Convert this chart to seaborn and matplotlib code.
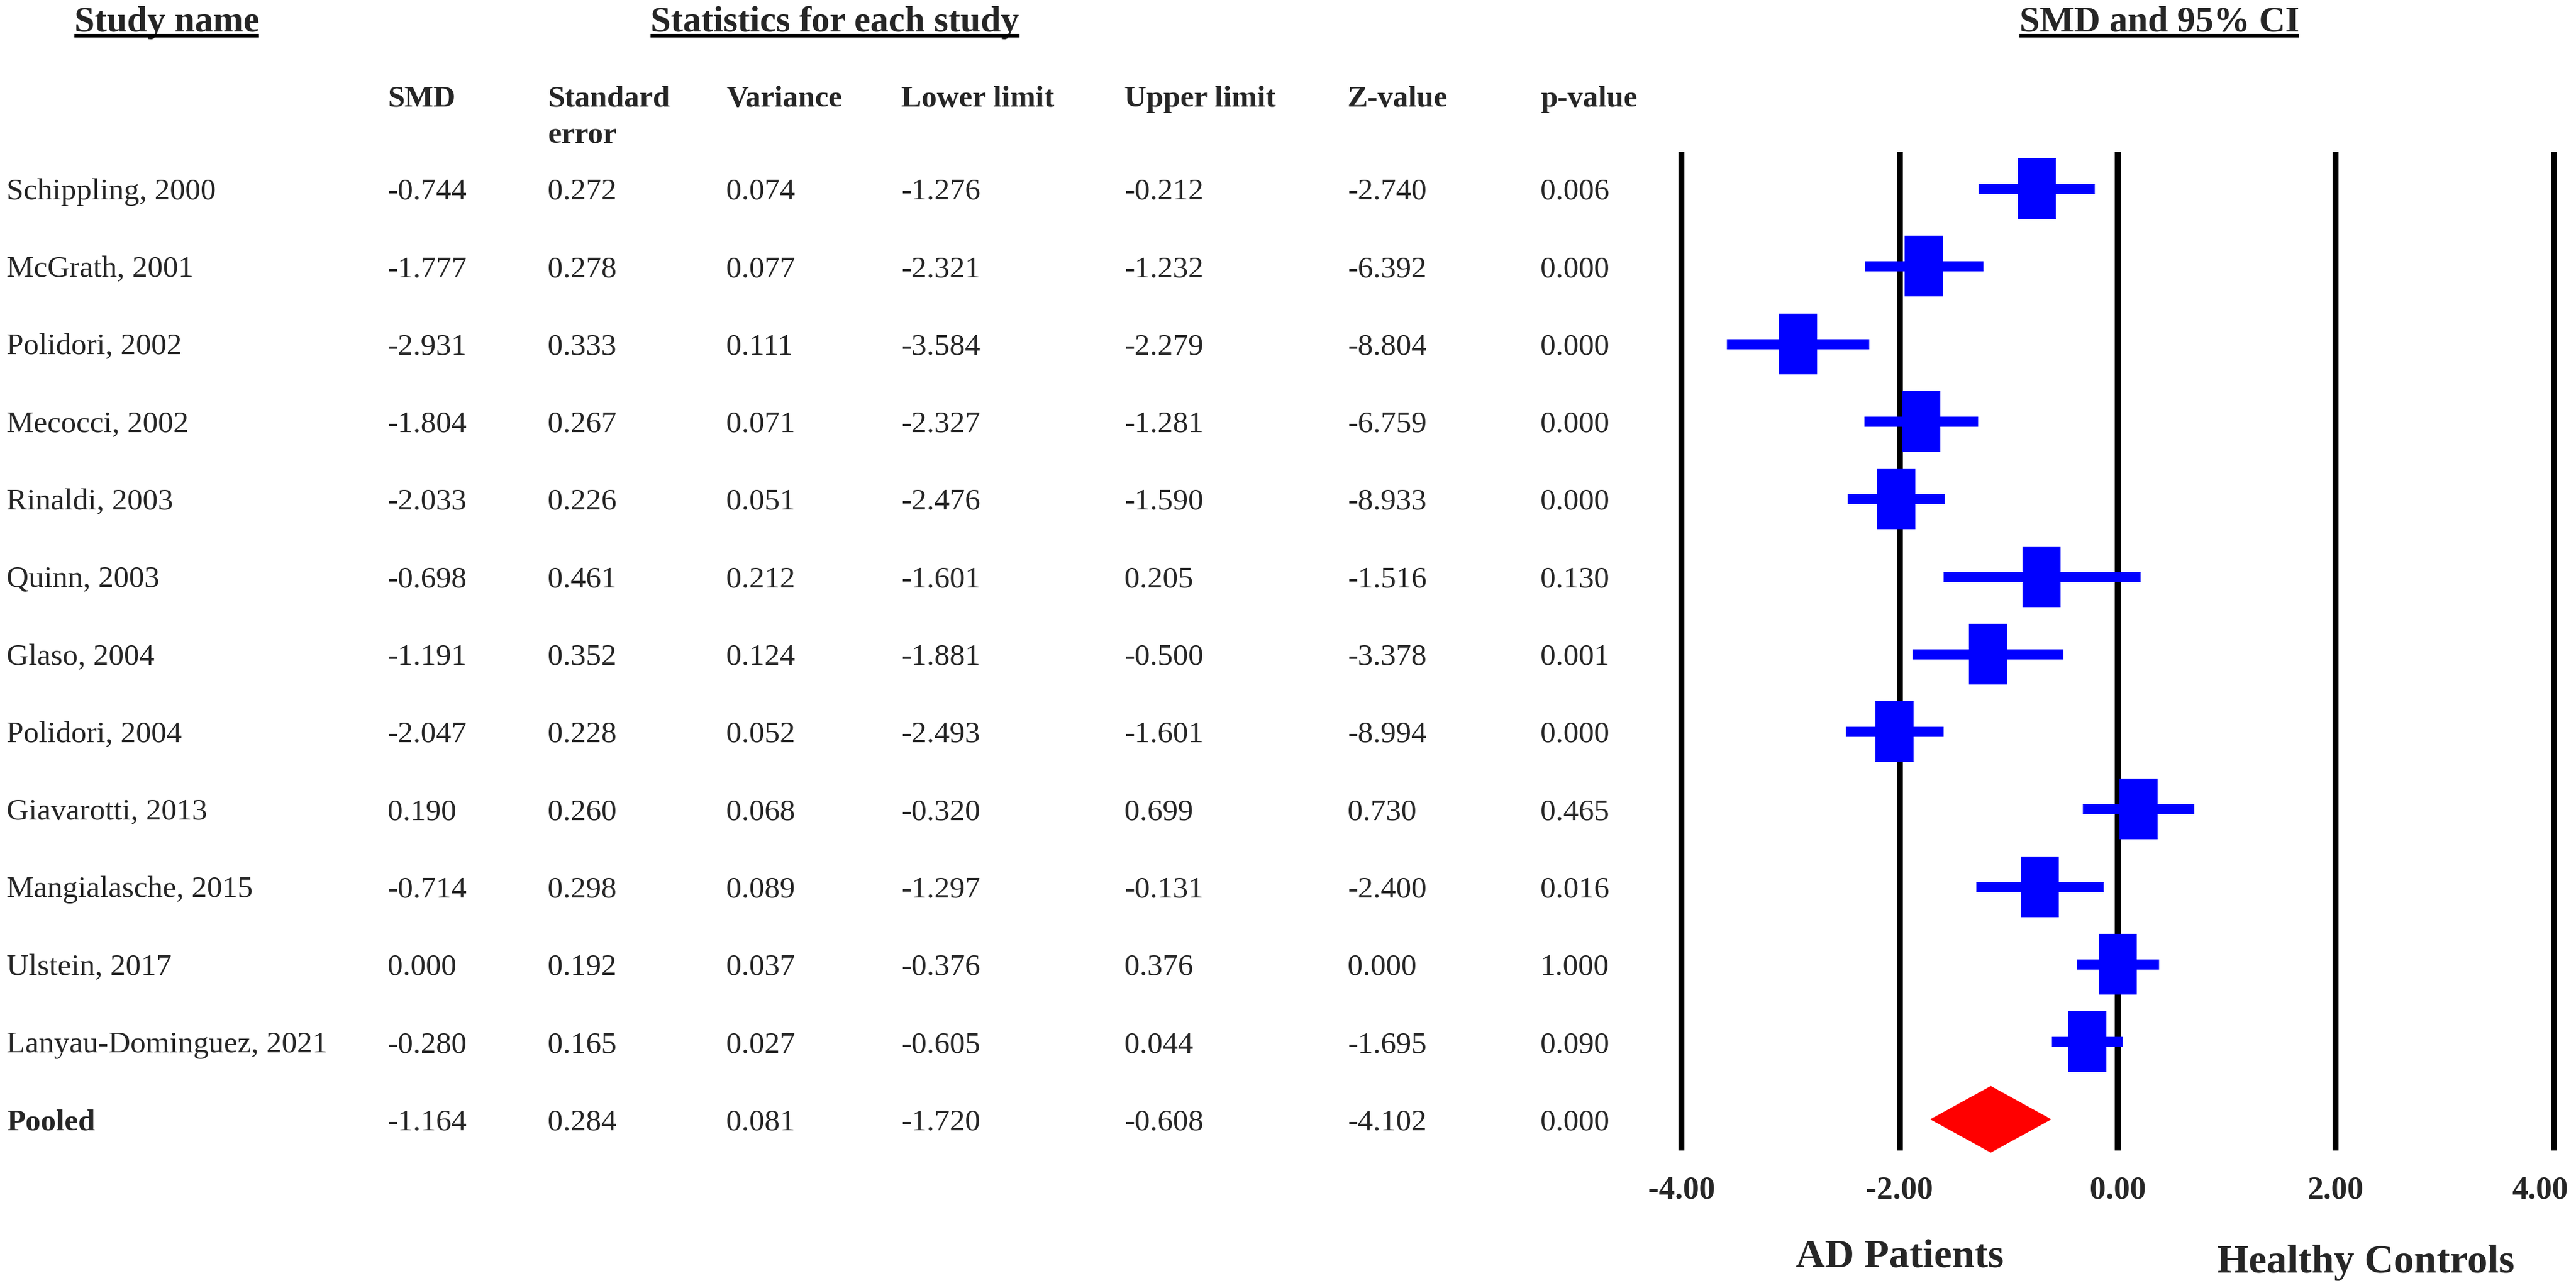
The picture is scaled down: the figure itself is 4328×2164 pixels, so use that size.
import numpy as np
import pandas as pd
import matplotlib
matplotlib.use("Agg")
import matplotlib.pyplot as plt
import matplotlib.path as mpath
import matplotlib.transforms as mtransforms
from matplotlib.lines import Line2D
import seaborn as sns

# -----------------------------
# DATA
# -----------------------------
studies = ["Schippling, 2000", "McGrath, 2001", "Polidori, 2002", "Mecocci, 2002",
           "Rinaldi, 2003", "Quinn, 2003", "Glaso, 2004", "Polidori, 2004",
           "Giavarotti, 2013", "Mangialasche, 2015", "Ulstein, 2017",
           "Lanyau-Dominguez, 2021"]
smd = [-0.744, -1.777, -2.931, -1.804, -2.033, -0.698, -1.191, -2.047, 0.190, -0.714, 0.000, -0.280]
std_err = [0.272, 0.278, 0.333, 0.267, 0.226, 0.461, 0.352, 0.228, 0.260, 0.298, 0.192, 0.165]
variance = [0.074, 0.077, 0.111, 0.071, 0.051, 0.212, 0.124, 0.052, 0.068, 0.089, 0.037, 0.027]
lower = [-1.276, -2.321, -3.584, -2.327, -2.476, -1.601, -1.881, -2.493, -0.320, -1.297, -0.376, -0.605]
upper = [-0.212, -1.232, -2.279, -1.281, -1.590, 0.205, -0.500, -1.601, 0.699, -0.131, 0.376, 0.044]
z_value = [-2.740, -6.392, -8.804, -6.759, -8.933, -1.516, -3.378, -8.994, 0.730, -2.400, 0.000, -1.695]
p_value = [0.006, 0.000, 0.000, 0.000, 0.000, 0.130, 0.001, 0.000, 0.465, 0.016, 1.000, 0.090]

pooled_name = "Pooled"
pooled_stats = [-1.164, 0.284, 0.081, -1.720, -0.608, -4.102, 0.000]  # SMD, SE, Var, LL, UL, Z, p

col_headers = ["SMD", "Standard\nerror", "Variance", "Lower limit", "Upper limit", "Z-value", "p-value"]
axis_ticks = [-4, -2, 0, 2, 4]
tick_labels = ["-4.00", "-2.00", "0.00", "2.00", "4.00"]
side_labels = ["AD Patients", "Healthy Controls"]

# -----------------------------
# LAYOUT (pixels of the 4328 x 2164 canvas)
# -----------------------------
W, H, DPI = 4328, 2164, 100
ROW0, ROW_DY = 317, 130.3          # centre of first row, row spacing
ZERO_PX, UNIT_PX = 3558, 183.2     # x=0 position and px per SMD unit
LINE_TOP, LINE_BOT = 255, 1933     # extent of the vertical reference lines

def row_of(py):
    return (py - ROW0) / ROW_DY

sns.set_style("white")
plt.rcParams["font.family"] = ["Liberation Serif", "DejaVu Serif"]

fig = plt.figure(figsize=(W / DPI, H / DPI), dpi=DPI)
x_left = ZERO_PX - 4.2 * UNIT_PX
x_right = ZERO_PX + 4.2 * UNIT_PX
ax = fig.add_axes([x_left / W, 1 - LINE_BOT / H, (x_right - x_left) / W, (LINE_BOT - LINE_TOP) / H])
ax.set_xlim(-4.2, 4.2)
ax.set_ylim(row_of(LINE_BOT), row_of(LINE_TOP))
for s in ax.spines.values():
    s.set_visible(False)
ax.set_xticks(axis_ticks)
ax.set_yticks([])
ax.tick_params(length=0, labelbottom=False)
ax.grid(axis="x", color="black", linewidth=7.2)
ax.grid(axis="y", visible=False)
ax.set_axisbelow(True)

# -----------------------------
# FOREST MARKS
# -----------------------------
df = pd.DataFrame({"study": studies, "smd": smd, "lower": lower, "upper": upper,
                   "row": np.arange(len(studies))})

ax.hlines(df["row"], df["lower"], df["upper"], colors="#0000FF", linewidth=12.2, zorder=3)

hw = 0.3186
box = mpath.Path([(-hw, -0.5), (hw, -0.5), (hw, 0.5), (-hw, 0.5), (-hw, -0.5)], closed=True)
sns.scatterplot(data=df, x="smd", y="row", marker=box, s=5390, color="#0000FF",
                linewidth=0, legend=False, ax=ax, zorder=4)
ax.set_xlabel("")
ax.set_ylabel("")

pooled_row = len(studies)
half_h = 56 / ROW_DY
p_smd, p_lo, p_hi = pooled_stats[0], pooled_stats[3], pooled_stats[4]
ax.fill([p_lo, p_smd, p_hi, p_smd],
        [pooled_row, pooled_row - half_h, pooled_row, pooled_row + half_h],
        color="#FF0000", linewidth=0, zorder=4, clip_on=False)

# -----------------------------
# TABLE TEXT
# -----------------------------
tr = mtransforms.blended_transform_factory(fig.transFigure, ax.transData)
name_x = 11
col_x = [651, 920, 1220, 1514, 1889, 2264, 2588]
FS = 37

columns = [smd, std_err, variance, lower, upper, z_value, p_value]
for i, name in enumerate(studies):
    ax.text(name_x / W, i, name, transform=tr, fontsize=FS, va="center_baseline", ha="left")
    for cx, col in zip(col_x, columns):
        ax.text(cx / W, i, f"{col[i]:.3f}", transform=tr, fontsize=FS,
                va="center_baseline", ha="left")

ax.text(name_x / W, pooled_row, pooled_name, transform=tr, fontsize=FS,
        fontweight="bold", va="center_baseline", ha="left")
for cx, v in zip(col_x, pooled_stats):
    ax.text(cx / W, pooled_row, f"{v:.3f}", transform=tr, fontsize=FS,
            va="center_baseline", ha="left")

# column headers; wrapped headers continue on a second line 62 px lower
hdr_row = row_of(161)
for cx, h in zip(col_x, col_headers):
    for k, part in enumerate(h.split("\n")):
        ax.text(cx / W, hdr_row + k * 62 / ROW_DY, part, transform=tr, fontsize=FS,
                fontweight="bold", va="center_baseline", ha="left")

title_row = row_of(31)
titles = [("Study name", 280), ("Statistics for each study", 1403), ("SMD and 95% CI", 3628)]
title_objs = []
for txt, cx in titles:
    t = ax.text(cx / W, title_row, txt, transform=tr, fontsize=44, fontweight="bold",
                va="center_baseline", ha="center")
    title_objs.append(t)

# tick labels under the reference lines
for tk, lab in zip(axis_ticks, tick_labels):
    dx = -23 if tk == axis_ticks[-1] else 0
    ttr = mtransforms.offset_copy(ax.transData, fig=fig, x=dx, y=0, units="dots")
    ax.text(tk, row_of(1995), lab, transform=ttr, fontsize=39, fontweight="bold",
            va="center_baseline", ha="center")

ax.text(-2.0, row_of(2105), side_labels[0], fontsize=49, fontweight="bold",
        va="center_baseline", ha="center")
ax.text((3975 - ZERO_PX) / UNIT_PX, row_of(2115), side_labels[1], fontsize=49,
        fontweight="bold", va="center_baseline", ha="center")

# underline the section titles
fig.canvas.draw()
renderer = fig.canvas.get_renderer()
for t in title_objs:
    bb = t.get_window_extent(renderer)
    y = 1 - 60 / H
    fig.add_artist(Line2D([bb.x0 / W, bb.x1 / W], [y, y], transform=fig.transFigure,
                          color="black", linewidth=4.3, solid_capstyle="butt"))

fig.savefig("out.png", dpi=DPI, facecolor="white")
